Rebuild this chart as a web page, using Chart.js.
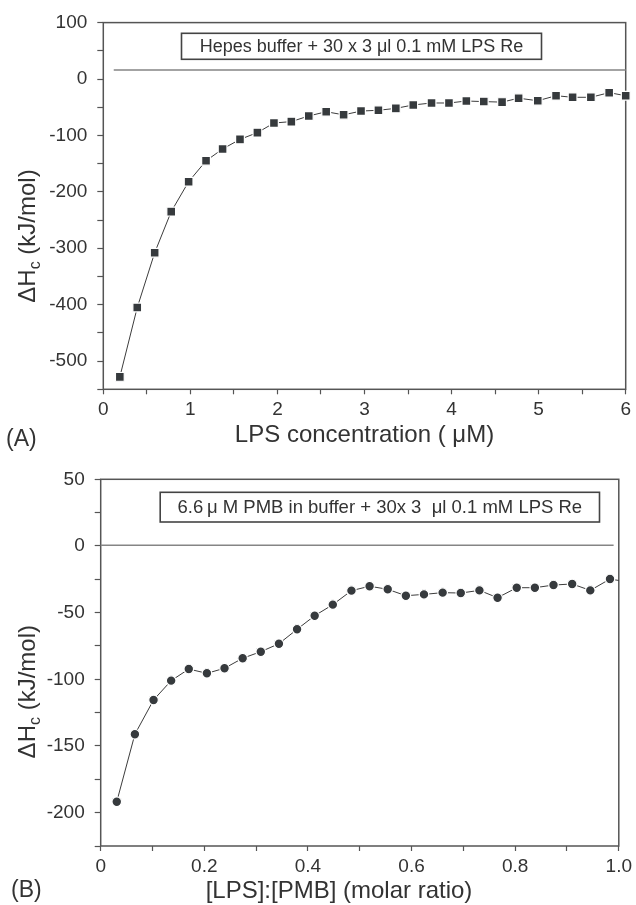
<!DOCTYPE html>
<html><head><meta charset="utf-8">
<script src="https://cdn.jsdelivr.net/npm/chart.js@4/dist/chart.umd.min.js"></script>
<style>
html,body{margin:0;padding:0;background:#fff;}
#wrap{position:relative;width:636px;height:905px;background:#fff;}
canvas{position:absolute;left:0;}
</style></head><body>
<div id="wrap">
<canvas id="cA" width="636" height="455" style="top:0"></canvas>
<canvas id="cB" width="636" height="450" style="top:455px"></canvas>
</div>
<script>
// ---- Panel A data: LPS concentration (µM) vs ΔHc (kJ/mol)
const concA = [0.19,0.39,0.59,0.78,0.98,1.18,1.37,1.57,1.77,1.96,2.16,2.36,2.56,2.76,2.96,3.16,3.36,3.56,3.77,3.97,4.17,4.37,4.58,4.77,4.99,5.20,5.39,5.60,5.81,6.00];
const dHcA  = [-528,-405,-308,-235,-182,-145,-124,-107,-95,-78,-75.5,-65.5,-58,-63.5,-56.8,-55.4,-52,-46,-42.5,-42.5,-39,-40,-41,-34,-38.5,-29.6,-32.4,-32.4,-24.2,-29.6];
const baseA_x = [0.12, 6];
const baseA_y = [16, 16];
const xLabelsA = ['0','1','2','3','4','5','6'];
const yLabelsA = ['100','0','-100','-200','-300','-400','-500'];

// ---- Panel B data: [LPS]:[PMB] molar ratio vs ΔHc (kJ/mol)
const ratioB = [0.031,0.066,0.102,0.136,0.170,0.205,0.239,0.274,0.309,0.344,0.379,0.413,0.448,0.484,0.519,0.554,0.589,0.624,0.660,0.695,0.731,0.766,0.803,0.838,0.874,0.910,0.945,0.983,1.018];
const dHcB   = [-191.8,-141.2,-115.5,-101,-92.3,-95.5,-91.7,-84.2,-79.3,-73.3,-62.5,-52.3,-44,-33.5,-30.2,-32.5,-37.3,-36.3,-35,-35.3,-33.3,-38.8,-31.3,-31.3,-29.3,-28.5,-33.3,-24.8,-27];
const baseB_x = [0, 0.99];
const baseB_y = [0.5, 0.5];
const xLabelsB = ['0','0.2','0.4','0.6','0.8','1.0'];
const yLabelsB = ['50','0','-50','-100','-150','-200'];

const FONT = '"Liberation Sans", Arial, Helvetica, sans-serif';
const TXT = '#333';
const AX = '#555';
const TICK_SIZE = 19;

function pts(xs, ys){ return xs.map((x,i)=>({x, y: ys[i]})); }

const decor = {
  id: 'decor',
  beforeDatasetsDraw(chart, args, o) {
    const {ctx, chartArea: a} = chart;
    ctx.save();
    ctx.strokeStyle = AX; ctx.lineWidth = 1.5;
    ctx.strokeRect(a.left, a.top, a.right - a.left, a.bottom - a.top);
    ctx.restore();
  },
  afterDraw(chart, args, o) {
    const ctx = chart.ctx;
    ctx.save();
    const b = o.box;
    ctx.fillStyle = '#fff';
    ctx.fillRect(b.left, b.top, b.width, b.height);
    ctx.strokeStyle = '#444'; ctx.lineWidth = 1.6;
    ctx.strokeRect(b.left, b.top, b.width, b.height);
    ctx.fillStyle = TXT;
    ctx.font = b.size + 'px ' + FONT;
    ctx.textAlign = 'center'; ctx.textBaseline = 'middle';
    ctx.fillText(b.text, b.left + b.width/2, b.top + b.height/2 + 1);
    ctx.font = o.xTitle.size + 'px ' + FONT;
    ctx.fillText(o.xTitle.text, o.xTitle.x, o.xTitle.y);
    ctx.textAlign = 'left';
    ctx.font = o.panel.size + 'px ' + FONT;
    ctx.fillText(o.panel.text, o.panel.x, o.panel.y);
    const yt = o.yTitle;
    ctx.translate(yt.x, yt.y);
    ctx.rotate(-Math.PI/2);
    const parts = [
      {t:'\u0394H', s: yt.size, dy: 0},
      {t:'c', s: Math.round(yt.size*0.68), dy: yt.size*0.3},
      {t:' (kJ/mol)', s: yt.size, dy: 0}
    ];
    let total = 0;
    parts.forEach(p => { ctx.font = p.s + 'px ' + FONT; p.w = ctx.measureText(p.t).width; total += p.w; });
    let cx = -total/2;
    ctx.textAlign = 'left'; ctx.textBaseline = 'middle';
    parts.forEach(p => { ctx.font = p.s + 'px ' + FONT; ctx.fillText(p.t, cx, p.dy); cx += p.w; });
    ctx.restore();
  }
};

function makeChart(id, cfg) {
  const H = cfg.H;
  return new Chart(document.getElementById(id), {
    type: 'line',
    data: {
      datasets: [
        { data: pts(cfg.bx, cfg.by), borderColor: '#858585', borderWidth: 1.5, pointRadius: 0, order: 2, clip: false },
        { data: pts(cfg.xs, cfg.ys), borderColor: '#3c3c3c', borderWidth: 1, tension: 0,
          pointStyle: cfg.pStyle, pointRadius: cfg.pr, pointBackgroundColor: '#363a3d',
          pointBorderColor: '#ffffff', pointBorderWidth: 1.2, order: 1, clip: cfg.clip }
      ]
    },
    options: {
      responsive: false, animation: false,
      layout: { padding: { left: 0, right: 636 - cfg.area.right, top: cfg.area.top, bottom: 0 } },
      plugins: { legend: {display:false}, tooltip: {enabled:false}, decor: cfg.decor },
      scales: {
        x: {
          type: 'linear', min: cfg.xmin, max: cfg.xmax,
          afterFit: s => { s.height = H - cfg.area.bottom; },
          ticks: { stepSize: cfg.xstep, autoSkip: false, maxRotation: 0, color: TXT, padding: 4,
                   font: { family: FONT, size: TICK_SIZE },
                   callback: v => { const l = cfg.xfmt(v); return cfg.xLabels.includes(l) ? l : ''; } },
          grid: { drawOnChartArea: false, drawTicks: true, tickLength: 5, tickWidth: 1.2, tickColor: AX, color: AX },
          border: { display: false }
        },
        y: {
          type: 'linear', min: cfg.ymin, max: cfg.ymax,
          afterFit: s => { s.width = cfg.area.left; },
          ticks: { stepSize: cfg.ystep, autoSkip: false, color: TXT, padding: 10,
                   font: { family: FONT, size: TICK_SIZE },
                   callback: v => { const l = String(Math.round(v)); return cfg.yLabels.includes(l) ? l : ''; } },
          grid: { drawOnChartArea: false, drawTicks: true, tickLength: 6, tickWidth: 1.2, tickColor: AX, color: AX },
          border: { display: false }
        }
      }
    },
    plugins: [decor]
  });
}

makeChart('cA', {
  H: 455, area: { left: 103.3, right: 625.7, top: 22.6, bottom: 389.3 },
  xs: concA, ys: dHcA, bx: baseA_x, by: baseA_y, pStyle: 'rect', pr: 6.2, clip: false,
  xmin: 0, xmax: 6, xstep: 0.5, ymin: -550, ymax: 100, ystep: 50,
  xLabels: xLabelsA, yLabels: yLabelsA,
  xfmt: v => String(Math.round(v*100)/100),
  decor: {
    box: { text: 'Hepes buffer + 30 x 3 \u03BCl 0.1 mM LPS Re', left: 181.5, top: 33.3, width: 360, height: 26, size: 18 },
    xTitle: { text: 'LPS concentration ( \u03BCM)', x: 364.5, y: 435, size: 24 },
    yTitle: { x: 28, y: 236, size: 24 },
    panel: { text: '(A)', x: 6, y: 440, size: 23 }
  }
});

makeChart('cB', {
  H: 450, area: { left: 100.7, right: 621.7, top: 24.3, bottom: 391 },
  xs: ratioB, ys: dHcB, bx: baseB_x, by: baseB_y, pStyle: 'circle', pr: 4.8, clip: undefined,
  xmin: 0, xmax: 1, xstep: 0.1, ymin: -225, ymax: 50, ystep: 25,
  xLabels: xLabelsB, yLabels: yLabelsB,
  xfmt: v => { const r = Math.round(v*10)/10; return r === 0 ? '0' : r.toFixed(1); },
  decor: {
    box: { text: '6.6\u2009\u03BC M PMB in buffer + 30x 3  \u03BCl 0.1 mM LPS Re', left: 160.2, top: 37.3, width: 439.3, height: 29.7, size: 18.5 },
    xTitle: { text: '[LPS]:[PMB] (molar ratio)', x: 339, y: 436.7, size: 24 },
    yTitle: { x: 28, y: 236.7, size: 24 },
    panel: { text: '(B)', x: 11, y: 436, size: 23 }
  }
});
</script>
</body></html>
